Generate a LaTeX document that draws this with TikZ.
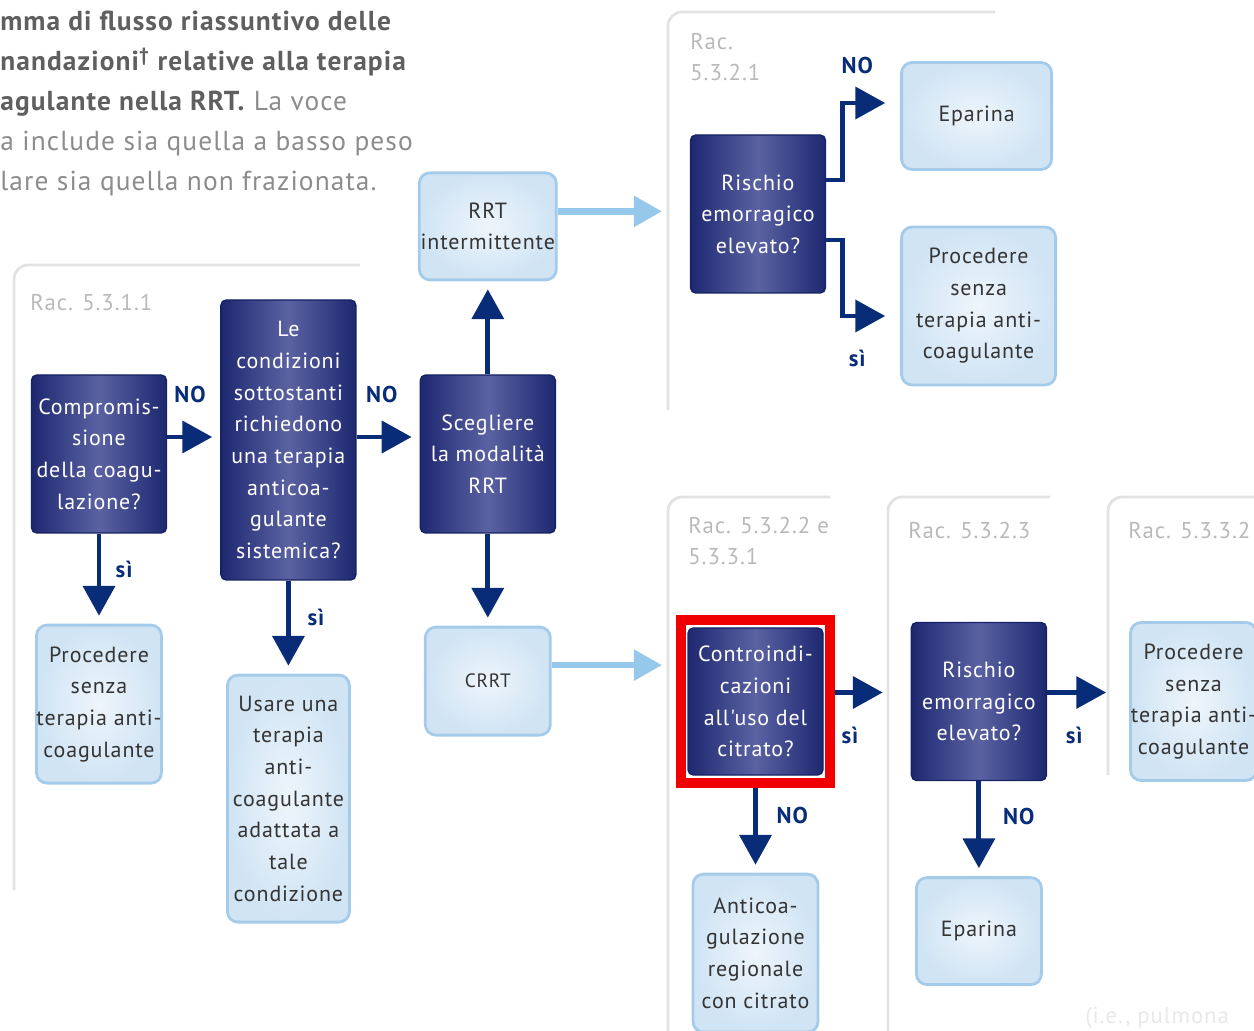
\documentclass[tikz,border=0pt]{standalone}
\usepackage{fontspec}
\setmainfont{PT Sans}
\newfontfamily\boxfont{PT Sans}[LetterSpace=4]
\usetikzlibrary{arrows.meta, positioning, fit}
\definecolor{navyd}{RGB}{30,40,112}
\definecolor{navym}{RGB}{90,98,162}
\definecolor{navyline}{RGB}{22,34,100}
\definecolor{arrblue}{RGB}{8,44,120}
\definecolor{lbout}{RGB}{208,228,244}
\definecolor{lbin}{RGB}{238,245,251}
\definecolor{lbline}{RGB}{165,203,234}
\definecolor{lbarr}{RGB}{150,200,236}
\definecolor{ltext}{RGB}{52,52,52}
\definecolor{pgray}{RGB}{226,226,226}
\definecolor{racgray}{RGB}{185,185,185}
\definecolor{hgray}{RGB}{95,95,95}
\definecolor{hlgray}{RGB}{140,140,140}
\definecolor{hired}{RGB}{240,0,0}

\begin{document}
\begin{tikzpicture}[
  dbox/.style={
    rectangle, rounded corners=3pt,
    draw=navyline, line width=0.8pt,
    left color=navyd, right color=navyd, middle color=navym,
    text=white, align=center, inner sep=0pt,
    font=\boxfont\fontsize{12.5}{18}\selectfont,
    minimum width=2.7cm, minimum height=3.16cm
  },
  lbox/.style={
    rectangle, rounded corners=6pt,
    draw=lbline, line width=1.6pt,
    inner color=lbin, outer color=lbout,
    text=ltext, align=center, inner sep=0pt,
    font=\boxfont\fontsize{12.5}{18}\selectfont,
    minimum width=2.5cm, minimum height=3.16cm
  },
  arr/.style={-{Triangle[length=17pt,width=18pt]}, line width=2.8pt, draw=arrblue, shorten >=0.16cm},
  larr/.style={-{Triangle[length=16pt,width=17pt]}, line width=3.6pt, draw=lbarr},
  lbl/.style={font=\boxfont\fontsize{13}{13}\selectfont\bfseries, text=arrblue, inner sep=1pt},
  panel/.style={draw=pgray, line width=1.6pt, rounded corners=8pt},
  rac/.style={font=\boxfont\fontsize{13}{17.6}\selectfont, text=racgray, align=left, inner sep=0pt}
]
  \useasboundingbox (0,0) rectangle (25.08,-20.62);

  % panels
  \draw[panel] (0.28,-17.8) -- (0.28,-5.3) -- (7.2,-5.3);
  \draw[panel] (13.36,-8.2) -- (13.36,-0.24) -- (19.9,-0.24);
  \draw[panel] (13.36,-20.8) -- (13.36,-9.94) -- (16.6,-9.94);
  \draw[panel] (17.76,-20.8) -- (17.76,-9.94) -- (21.0,-9.94);
  \draw[panel] (22.16,-15.5) -- (22.16,-9.94) -- (25.2,-9.94);

  \node[rac, anchor=west] (r1) at (0.6,-6.06) {Rac. 5.3.1.1};
  \node[rac, anchor=north west] (r2) at (13.8,-0.66) {Rac.\\5.3.2.1};
  \node[rac, anchor=north west] (r3) at (13.76,-10.34) {Rac. 5.3.2.2 e\\5.3.3.1};
  \node[rac, anchor=west] (r4) at (18.16,-10.62) {Rac. 5.3.2.3};
  \node[rac, anchor=west] (r5) at (22.56,-10.62) {Rac. 5.3.3.2};

  % header
  \node[anchor=north west, inner sep=0pt, align=left, text=hgray,
    font=\boxfont\fontsize{15.6}{22.7}\selectfont] (head) at (0,-0.22)
    {\textbf{mma di flusso riassuntivo delle}\\
     \textbf{nandazioni\textsuperscript{†} relative alla terapia}\\
     \textbf{agulante nella RRT.} {\color{hlgray}La voce}\\
     {\color{hlgray}a include sia quella a basso peso}\\
     {\color{hlgray}lare sia quella non frazionata.}};

  % left part
  \node[dbox] (comp) at (1.98,-9.08) {Compromis-\\sione\\della coagu-\\lazione?};
  \node[dbox, minimum height=5.6cm, right=1.06cm of comp, yshift=0.28cm] (cond)
    {Le\\condizioni\\sottostanti\\richiedono\\una terapia\\anticoa-\\gulante\\sistemica?};
  \node[dbox, right=1.26cm of cond, yshift=-0.28cm] (scegl) {Scegliere\\la modalità\\RRT};
  \node[lbox, minimum width=2.48cm, below=1.8cm of comp] (proc1)
    {Procedere\\senza\\terapia anti-\\coagulante};
  \node[lbox, minimum width=2.44cm, minimum height=4.94cm, below=1.86cm of cond] (usare)
    {Usare una\\terapia\\anti-\\coagulante\\adattata a\\tale\\condizione};
  \node[lbox, minimum width=2.74cm, minimum height=2.14cm, above=1.86cm of scegl] (rrtint)
    {RRT\\intermittente};
  \node[lbox, minimum height=2.16cm, below=1.84cm of scegl, font=\boxfont\fontsize{11}{14}\selectfont] (crrt) {CRRT};

  % intermittent branch
  \node[dbox] (risc1) at (15.16,-4.28) {Rischio\\emorragico\\elevato?};
  \node[lbox, minimum width=3cm, minimum height=2.14cm, right=1.48cm of risc1, yshift=1.96cm] (epar1) {Eparina};
  \node[lbox, minimum width=3.08cm, right=1.48cm of risc1, yshift=-1.84cm] (proc2)
    {Procedere\\senza\\terapia anti-\\coagulante};

  % continuous branch
  \node[dbox, minimum height=2.94cm] (contro) at (15.11,-14.03)
    {Controindi-\\cazioni\\all'uso del\\citrato?};
  \node[draw=hired, line width=5.7pt, fit=(contro), inner xsep=0.12cm, inner ysep=0.14cm] (hilite) {};
  \node[dbox, right=1.52cm of hilite] (risc2) {Rischio\\emorragico\\elevato?};
  \node[lbox, minimum width=2.52cm, right=1.64cm of risc2] (proc3)
    {Procedere\\senza\\terapia anti-\\coagulante};
  \node[lbox, below=1.7cm of hilite] (anticoa)
    {Anticoa-\\gulazione\\regionale\\con citrato};
  \node[lbox, minimum height=2.14cm, below=1.9cm of risc2] (epar2) {Eparina};

  \node[anchor=west, inner sep=0pt, text=black!9, font=\boxfont\fontsize{13}{13}\selectfont] (foot) at (21.7,-20.36) {(i.e., pulmona};

  % connectors
  \draw[arr] ([yshift=0.34cm]comp.east) -- ([yshift=0.06cm]cond.west)
    node[lbl, pos=0.43, above=0.6cm] {NO};
  \draw[arr] ([yshift=0.06cm]cond.east) -- ([yshift=0.34cm]scegl.west)
    node[lbl, pos=0.4, above=0.6cm] {NO};
  \draw[arr] (comp.south) -- (proc1.north)
    node[lbl, pos=0.4, right=0.25cm] {sì};
  \draw[arr] (cond.south) -- (cond.south |- usare.north)
    node[lbl, pos=0.4, right=0.3cm] {sì};
  \draw[arr] (scegl.north) -- (scegl.north |- rrtint.south);
  \draw[arr] (scegl.south) -- (scegl.south |- crrt.north);

  \coordinate (p2in) at (13.24,-4.26);
  \coordinate (p3in) at (13.24,-13.26);
  \draw[larr] ([yshift=0.3cm]rrtint.east) -- ([yshift=0.3cm]rrtint.east -| p2in);
  \draw[larr] ([yshift=0.32cm]crrt.east) -- ([yshift=0.32cm]crrt.east -| p3in);

  \draw[arr, shorten >=0.3cm] ([yshift=0.68cm]risc1.east) -- ++(0.32,0) |- ([yshift=0.26cm]epar1.west)
    node[lbl, pos=0.5, above=0.5cm, xshift=0.3cm] {NO};
  \draw[arr, shorten >=0.3cm] ([yshift=-0.52cm]risc1.east) -- ++(0.32,0) |- ([yshift=-0.2cm]proc2.west)
    node[lbl, pos=0.5, below=0.6cm, xshift=0.3cm] {sì};

  \draw[arr, shorten >=0.56cm] ([yshift=0.18cm]hilite.east) -- ([yshift=0.18cm]risc2.west)
    node[lbl, pos=0.2, below=0.6cm] {sì};
  \draw[arr, shorten >=0.46cm] ([yshift=0.18cm]risc2.east) -- ([yshift=0.18cm]proc3.west)
    node[lbl, pos=0.33, below=0.6cm] {sì};
  \draw[arr] (hilite.south) -- (anticoa.north)
    node[lbl, pos=0.33, right=0.34cm] {NO};
  \draw[arr] (risc2.south) -- (epar2.north)
    node[lbl, pos=0.37, right=0.4cm] {NO};
\end{tikzpicture}
\end{document}
